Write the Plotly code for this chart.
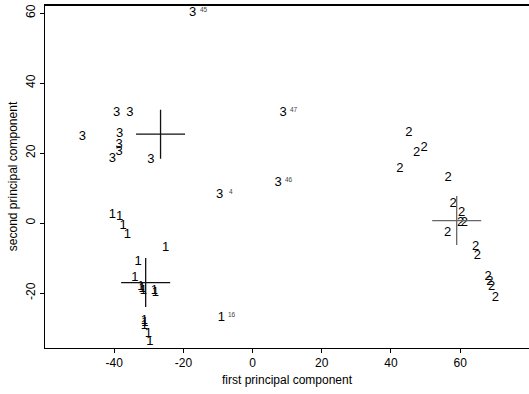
import plotly.graph_objects as go

# Group 1 observations (first PC, second PC)
g1_x = [-40.5, -38.4, -37.4, -36.2, -25.1, -33.1, -34.0, -32.3, -31.9, -31.6,
        -28.4, -28.1, -9.0, -31.3, -31.1, -31.3, -30.1, -29.7]
g1_y = [2.3, 1.9, -0.9, -3.3, -7.1, -11.0, -15.7, -18.1, -18.8, -19.2,
        -19.2, -20.0, -27.0, -27.8, -28.6, -29.4, -31.6, -34.0]
g1_lab = ["", "", "", "", "", "", "", "", "", "", "", "", "16", "", "", "", "", ""]

# Group 2 observations
g2_x = [45.2, 47.4, 49.6, 42.6, 56.5, 58.0, 60.4, 60.1, 61.2, 56.4,
        64.5, 65.0, 68.1, 68.6, 69.1, 70.2]
g2_y = [25.7, 20.2, 21.6, 15.4, 13.0, 5.5, 2.9, 0.2, 0.2, -2.9,
        -6.7, -9.3, -15.4, -16.9, -18.3, -21.3]

# Group 3 observations
g3_x = [-17.3, -39.3, -35.5, -49.2, -38.4, -38.6, -38.6, -40.5, -29.4, 8.8, 7.4, -9.5]
g3_y = [60.1, 31.6, 31.4, 24.6, 25.4, 22.4, 20.5, 18.5, 18.0, 31.6, 11.6, 8.1]
g3_lab = ["45", "", "", "", "", "", "", "", "", "47", "46", "4"]

# Cluster centres
cent_x = [-30.9, 59.0, -26.6]
cent_y = [-17.0, 0.7, 25.4]
cent_col = ["#111111", "#666666", "#111111"]

# Tick labels
x_ticks = [-40, -20, 0, 20, 40, 60]
x_tick_text = ["-40", "-20", "0", "20", "40", "60"]
y_ticks = [-20, 0, 20, 40, 60]
y_tick_text = ["-20", "0", "20", "40", "60"]

FONT = "Liberation Sans, Arial, sans-serif"

fig = go.Figure()
for xs, ys, ch in [(g1_x, g1_y, "1"), (g2_x, g2_y, "2"), (g3_x, g3_y, "3")]:
    fig.add_trace(go.Scatter(x=xs, y=ys, mode="text", text=[ch] * len(xs),
                             textposition="middle center",
                             textfont=dict(family=FONT, size=13, color="#000"),
                             hoverinfo="skip", showlegend=False))

fig.add_trace(go.Scatter(x=cent_x, y=cent_y, mode="markers",
                         marker=dict(symbol="cross-thin", size=35,
                                     line=dict(width=1.3, color=cent_col)),
                         hoverinfo="skip", showlegend=False))

for xs, ys, labs in [(g1_x, g1_y, g1_lab), (g3_x, g3_y, g3_lab)]:
    for x, y, l in zip(xs, ys, labs):
        if l:
            fig.add_annotation(x=x, y=y, text=l, showarrow=False, xshift=11, yshift=3,
                               font=dict(family=FONT, size=6.5, color="#444"))

# top frame line
fig.add_shape(type="line", xref="paper", yref="paper", x0=0, x1=1, y0=1, y1=1,
              line=dict(color="#000", width=2), layer="above")

fig.update_layout(
    width=529, height=394,
    margin=dict(l=45, r=0, t=5, b=46),
    paper_bgcolor="white", plot_bgcolor="white",
    font=dict(family=FONT, size=12, color="#000"),
    xaxis=dict(range=[-60.0, 79.9], tickvals=x_ticks, ticktext=x_tick_text,
               ticks="outside", ticklen=4, tickcolor="#000", showgrid=False,
               zeroline=False, showline=True, linecolor="#000", linewidth=1,
               mirror=True, automargin=False,
               tickfont=dict(size=12),
               title=dict(text="first principal component", standoff=6,
                          font=dict(size=12))),
    yaxis=dict(range=[-35.7, 62.3], tickvals=y_ticks, ticktext=y_tick_text,
               ticks="outside", ticklen=4, tickcolor="#000", showgrid=False,
               zeroline=False, showline=True, linecolor="#000", linewidth=1,
               tickangle=-90, automargin=False,
               tickfont=dict(size=12),
               title=dict(text="second principal component", standoff=4,
                          font=dict(size=12))),
)

fig.write_html("out.html", config={"displayModeBar": False},
               post_script="document.body.style.margin='0';document.body.style.overflow='hidden';")
